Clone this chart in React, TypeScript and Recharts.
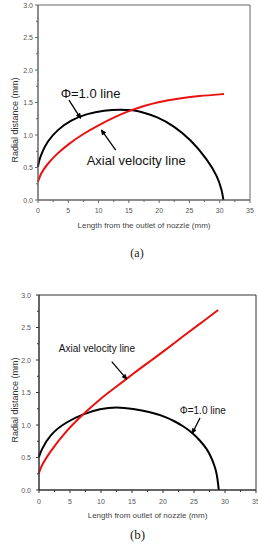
import React from 'react';
import { LineChart, Line, XAxis, YAxis, ReferenceArea, ReferenceLine, ReferenceDot } from 'recharts';

// ---------- tick labels ----------
const xTicks = [0, 2.5, 5, 7.5, 10, 12.5, 15, 17.5, 20, 22.5, 25, 27.5, 30, 32.5, 35];
const xMajor = [0, 5, 10, 15, 20, 25, 30, 35];
const yTicks = [0, 0.25, 0.5, 0.75, 1, 1.25, 1.5, 1.75, 2, 2.25, 2.5, 2.75, 3];
const yMajor = [0, 0.5, 1, 1.5, 2, 2.5, 3];

// ---------- panel (a) ----------
const topPhiX = [0, 0, 0.15, 0.7, 1.54, 3.2, 5.4, 8.15, 10.9, 13.65, 15.8, 16.9, 19.7, 22.4, 25.2, 27.9, 29.6, 30.4, 30.6, 30.6];
const topPhiY = [0.51, 0.51, 0.6, 0.74, 0.9, 1.08, 1.23, 1.33, 1.38, 1.395, 1.38, 1.36, 1.28, 1.14, 0.93, 0.63, 0.37, 0.14, 0, 0];
const topAxialX = [0, 0, 0.4, 1.5, 3, 5, 7.5, 10, 12.5, 15, 17.5, 20, 23, 26.5, 30.7, 30.7];
const topAxialY = [0.28, 0.28, 0.4, 0.55, 0.7, 0.86, 1.02, 1.15, 1.27, 1.37, 1.45, 1.51, 1.56, 1.6, 1.63, 1.63];

// ---------- panel (b) ----------
const botPhiX = [0, 0, 0.3, 1.77, 4.46, 7.15, 9.84, 12.5, 15.2, 17.9, 20.6, 22, 23.3, 24.6, 26, 27, 27.6, 28.3, 28.7, 29.0, 29.0];
const botPhiY = [0.51, 0.51, 0.6, 0.86, 1.05, 1.17, 1.25, 1.28, 1.25, 1.2, 1.12, 1.05, 0.98, 0.89, 0.76, 0.64, 0.54, 0.38, 0.25, 0, 0];
const botAxialX = [0, 0, 0.3, 1.77, 4.46, 7.15, 9.84, 12.5, 15.2, 17.9, 20.6, 23.3, 26, 28.9, 28.9];
const botAxialY = [0.26, 0.26, 0.36, 0.59, 0.92, 1.17, 1.4, 1.59, 1.79, 1.98, 2.17, 2.37, 2.56, 2.77, 2.77];

const toPoints = (xs: number[], ys: number[]) => xs.map((x, i) => ({ x, y: ys[i] }));

const SANS = '"Liberation Sans", Arial, sans-serif';

const makeXTick = (color: string, gap: number, fs: number) => (p: any) => {
  const { x, y, payload } = p;
  const major = xMajor.includes(payload.value);
  return (
    <g>
      <line x1={x} y1={y} x2={x} y2={y + (major ? 3 : 2)} stroke={color} strokeWidth={1} />
      {major && (
        <text x={x} y={y + gap} textAnchor="middle" dominantBaseline="central" fontSize={fs} fill="#555" fontFamily={SANS}>
          {payload.value}
        </text>
      )}
    </g>
  );
};

const makeYTick = (color: string, gap: number, fs: number) => (p: any) => {
  const { x, y, payload } = p;
  const major = yMajor.includes(payload.value);
  return (
    <g>
      <line x1={x} y1={y} x2={x - (major ? 3 : 2)} y2={y} stroke={color} strokeWidth={1} />
      {major && (
        <text x={x - gap} y={y} textAnchor="end" dominantBaseline="central" fontSize={fs} fill="#555" fontFamily={SANS}>
          {payload.value.toFixed(1)}
        </text>
      )}
    </g>
  );
};

const Arrow = (p: any) => {
  const { x1, y1, x2, y2 } = p;
  const ang = Math.atan2(y2 - y1, x2 - x1);
  const L = 5;
  const a = 0.42;
  const ax = x2 - L * Math.cos(ang - a);
  const ay = y2 - L * Math.sin(ang - a);
  const bx = x2 - L * Math.cos(ang + a);
  const by = y2 - L * Math.sin(ang + a);
  return (
    <g>
      <line x1={x1} y1={y1} x2={x2} y2={y2} stroke="#000" strokeWidth={1.3} />
      <polygon points={`${ax},${ay} ${x2},${y2} ${bx},${by}`} fill="#000" stroke="#000" strokeWidth={0.8} />
    </g>
  );
};

const textShape = (label: string, fs: number) => (p: any) => (
  <text x={p.cx} y={p.cy} fontSize={fs} fill="#111" fontFamily={SANS}>
    {label}
  </text>
);

type Ann = { text: string; tx: number; ty: number; a: [number, number, number, number] };

type PanelProps = {
  top: number;
  margin: { top: number; right: number; bottom: number; left: number };
  yWidth: number;
  phi: { x: number; y: number }[];
  axial: { x: number; y: number }[];
  xLabel: string;
  axisColor: string;
  xGap: number;
  yGap: number;
  tickFs: number;
  annFs: number;
  anns: Ann[];
  yLabelY: number;
};

function Panel(props: PanelProps) {
  const H = 240;
  const { top, margin, yWidth, phi, axial, xLabel, axisColor, xGap, yGap, tickFs, annFs, anns, yLabelY } = props;
  const plotLeft = margin.left + yWidth;
  const plotRight = 258 - margin.right;
  const plotBottom = H - margin.bottom - 30;
  const cx = (plotLeft + plotRight) / 2;
  return (
    <div style={{ position: 'absolute', left: 0, top, width: 258, height: H }}>
      <LineChart width={258} height={H} margin={margin}>
        <XAxis
          dataKey="x"
          type="number"
          domain={[0, 35]}
          ticks={xTicks}
          interval={0}
          height={30}
          tickSize={0}
          tickMargin={0}
          tickLine={false}
          axisLine={{ stroke: axisColor, strokeWidth: 1 }}
          tick={makeXTick(axisColor, xGap, tickFs)}
          label={{
            content: () => (
              <text x={cx} y={plotBottom + 28} textAnchor="middle" fontSize={8} fill="#444" fontFamily={SANS}>
                {xLabel}
              </text>
            ),
          }}
        />
        <YAxis
          type="number"
          domain={[0, 3]}
          ticks={yTicks}
          interval={0}
          width={yWidth}
          tickSize={0}
          tickMargin={0}
          tickLine={false}
          axisLine={{ stroke: axisColor, strokeWidth: 1 }}
          tick={makeYTick(axisColor, yGap, tickFs)}
          label={{
            content: () => (
              <text
                x={15}
                y={yLabelY}
                transform={`rotate(-90, 15, ${yLabelY})`}
                textAnchor="middle"
                dominantBaseline="central"
                fontSize={9}
                fill="#333"
                fontFamily={SANS}
              >
                Radial distance (mm)
              </text>
            ),
          }}
        />
        <ReferenceArea x1={0} x2={35} y1={0} y2={3} fill="none" stroke={axisColor} strokeWidth={1} fillOpacity={0} />
        <Line data={phi} dataKey="y" type="basis" stroke="#000" strokeWidth={2} dot={false} isAnimationActive={false} />
        <Line data={axial} dataKey="y" type="basis" stroke="#e81010" strokeWidth={2} dot={false} isAnimationActive={false} />
        {anns.map((an, i) => (
          <ReferenceLine
            key={'l' + i}
            segment={[
              { x: an.a[0], y: an.a[1] },
              { x: an.a[2], y: an.a[3] },
            ]}
            shape={Arrow}
          />
        ))}
        {anns.map((an, i) => (
          <ReferenceDot key={'t' + i} x={an.tx} y={an.ty} r={0} shape={textShape(an.text, annFs)} />
        ))}
      </LineChart>
    </div>
  );
}

const topAnns: Ann[] = [
  { text: 'Φ=1.0 line', tx: 3.74, ty: 1.574, a: [5.12, 1.538, 7.04, 1.257] },
  { text: 'Axial velocity line', tx: 8.03, ty: 0.538, a: [12.83, 0.769, 10.46, 1.077] },
];
const botAnns: Ann[] = [
  { text: 'Axial velocity line', tx: 3.2, ty: 2.13, a: [11.73, 1.975, 14.15, 1.705] },
  { text: 'Φ=1.0 line', tx: 22.7, ty: 1.17, a: [25.97, 1.107, 24.7, 0.87] },
];

export default function App() {
  return (
    <div style={{ position: 'absolute', left: 0, top: 0, width: 258, height: 554, background: '#fff', overflow: 'hidden' }}>
      <Panel
        top={0}
        margin={{ top: 5, right: 8, bottom: 10, left: 0 }}
        yWidth={38}
        phi={toPoints(topPhiX, topPhiY)}
        axial={toPoints(topAxialX, topAxialY)}
        xLabel="Length from the outlet of nozzle (mm)"
        axisColor="#666"
        xGap={10.5}
        yGap={5}
        tickFs={7}
        annFs={13}
        anns={topAnns}
        yLabelY={120}
      />
      <div
        style={{
          position: 'absolute',
          left: 0,
          width: 274,
          top: 246,
          textAlign: 'center',
          fontFamily: '"Liberation Serif", "Times New Roman", serif',
          fontSize: 12,
          color: '#222',
        }}
      >
        (a)
      </div>
      <Panel
        top={285}
        margin={{ top: 10, right: 2, bottom: 5, left: 0 }}
        yWidth={39}
        phi={toPoints(botPhiX, botPhiY)}
        axial={toPoints(botAxialX, botAxialY)}
        xLabel="Length from outlet of nozzle (mm)"
        axisColor="#333"
        xGap={11.5}
        yGap={8}
        tickFs={7}
        annFs={10}
        anns={botAnns}
        yLabelY={115}
      />
      <div
        style={{
          position: 'absolute',
          left: 0,
          width: 275,
          top: 527,
          textAlign: 'center',
          fontFamily: '"Liberation Serif", "Times New Roman", serif',
          fontSize: 13,
          color: '#222',
        }}
      >
        (b)
      </div>
    </div>
  );
}
